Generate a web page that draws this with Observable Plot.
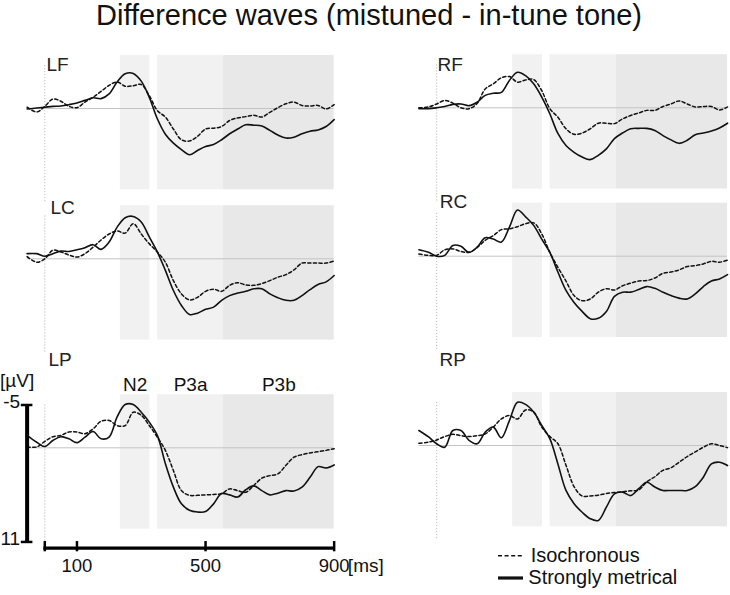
<!DOCTYPE html>
<html><head><meta charset="utf-8">
<script src="https://cdn.jsdelivr.net/npm/d3@7"></script>
<script src="https://cdn.jsdelivr.net/npm/@observablehq/plot@0.6"></script>
<style>
body{margin:0;background:#fff;font-family:"Liberation Sans",Arial,sans-serif;}
#root{position:relative;width:730px;height:595px;overflow:hidden;background:#fff;}
#root > *{position:absolute;}
#title{left:4px;top:1px;width:730px;text-align:center;font-size:29px;line-height:29px;color:#111;white-space:nowrap;}
</style></head><body><div id="root"><div id="title">Difference waves (mistuned - in-tune tone)</div></div>
<script>
// ---- data (µV, positive down as in the figure) ----
const times = [-55,-25,0,25,50,75,100,125,150,175,200,225,250,275,300,325,350,375,400,425,450,475,500,525,550,575,600,625,650,675,700,725,750,775,800,825,850,875,900];

const LF_metrical = [0.05,-0.05,-0.15,-0.25,-0.3,-0.45,-0.65,-0.95,-1.25,-1.15,-1.7,-3.1,-4.05,-4.1,-3.2,-1.3,1.2,3.0,4.05,4.8,5.4,4.9,4.45,4.2,3.65,2.95,2.4,1.9,1.95,2.05,2.55,3.1,3.45,3.35,2.95,2.65,2.5,2.1,1.3];
const LF_isochronous = [-0.15,0.4,-0.25,-1.1,-0.85,-0.25,-0.1,-0.75,-1.3,-2.0,-2.7,-3.1,-2.6,-2.65,-2.8,-1.5,0.25,1.0,2.4,3.65,3.8,3.25,2.4,2.3,2.1,1.4,1.1,0.95,0.8,1.0,0.45,-0.1,-0.55,-0.75,-0.35,-0.3,-0.35,0.05,-0.45];

const RF_metrical = [0.1,0.1,0,-0.15,-0.4,-0.45,-0.25,-0.65,-1.45,-1.7,-1.8,-3.2,-4.15,-3.75,-2.8,-1.25,0.7,3.0,4.4,5.2,5.75,6.05,5.55,4.8,3.6,2.95,2.45,2.4,2.4,2.65,3.25,3.75,4.15,3.8,3.15,2.95,2.7,2.35,1.8];
const RF_isochronous = [0,-0.1,-0.45,-0.85,-0.55,0,0.1,-0.5,-2.2,-2.8,-3.5,-3.65,-3.0,-3.25,-3.3,-2.0,0.1,1.1,2.45,3.1,2.95,2.45,1.8,1.8,1.85,1.3,0.9,0.6,0.3,0.3,-0.15,-0.45,-0.8,-0.45,-0.1,-0.15,-0.15,0.25,-0.1];

const LC_metrical = [-0.6,-0.6,-0.3,-0.6,-0.9,-0.85,-1.05,-1.3,-1.65,-1.1,-1.95,-3.7,-4.8,-4.95,-4.3,-2.55,-0.8,1.35,3.7,5.45,6.5,6.35,5.9,5.65,4.85,4.3,4.0,3.8,3.5,3.5,4.1,4.55,4.85,4.85,4.3,3.6,3.0,2.7,1.95];
const LC_isochronous = [-0.25,0.4,0,-1.0,-0.8,-0.45,-0.2,-0.6,-1.35,-2.2,-2.9,-3.25,-3.0,-4.1,-2.9,-1.75,-0.8,0.4,2.55,4.1,4.8,4.5,3.8,3.55,3.8,3.1,2.8,3.05,3.1,2.9,2.55,2.15,1.85,1.3,0.5,0.5,0.5,0.5,0.25];

const RC_metrical = [-0.75,-0.45,0,-0.1,-1.25,-1.15,-0.45,-1.05,-2.15,-2.0,-1.65,-3.4,-5.4,-4.6,-3.6,-2.0,-0.45,1.85,4.0,5.4,6.45,7.3,7.25,6.45,4.7,4.2,4.2,3.9,3.55,3.75,4.2,4.6,4.9,5.0,4.4,3.55,2.9,2.65,2.15];
const RC_isochronous = [-0.25,-0.1,-0.1,-0.75,-0.85,-0.55,-0.45,-1.0,-1.85,-2.4,-3.1,-3.2,-3.45,-3.8,-3.9,-2.6,-0.45,1.3,2.9,4.6,5.2,5.0,4.2,3.8,3.95,3.45,3.15,2.9,2.85,2.55,2.0,1.85,1.6,1.2,1.1,0.9,0.6,0.7,0.45];

const LP_metrical = [-1.45,-0.65,-0.15,-0.85,-1.3,-1.05,-0.6,-1.25,-1.9,-1.05,-1.25,-3.6,-5.05,-5.05,-4.15,-3.0,-1.45,1.85,4.6,6.55,7.3,7.5,7.45,6.55,5.35,5.5,5.75,4.9,4.45,5.0,5.5,5.3,5.0,5.05,4.6,3.45,2.2,2.35,2.0];
const LP_isochronous = [-0.1,-0.1,-0.75,-1.3,-1.45,-1.85,-1.85,-1.65,-2.2,-3.1,-3.2,-2.6,-2.6,-4.15,-3.8,-2.6,-1.25,0.3,2.65,5.0,5.55,5.55,5.5,5.45,5.35,4.8,5.0,5.2,4.4,3.55,3.25,3.05,2.05,1.1,0.8,0.6,0.45,0.3,0.1];

const RP_metrical = [-1.75,-1.0,-0.2,0.2,-1.75,-1.75,-0.6,-0.2,-1.55,-2.15,-0.9,-2.9,-5.05,-4.8,-3.9,-2.35,-0.8,2.15,5.25,6.8,7.8,8.55,8.75,7.2,5.65,5.45,5.85,5.05,4.3,4.85,5.25,5.25,5.25,5.25,4.8,3.7,2.15,1.95,2.35];
const RP_isochronous = [-0.25,-0.4,-0.65,-1.05,-1.3,-1.15,-1.05,-1.15,-1.35,-2.15,-3.1,-3.5,-3.1,-4.15,-3.9,-2.15,-1.05,-0.2,2.3,4.8,5.9,5.9,5.8,5.6,5.5,5.4,5.3,5.2,4.25,3.65,2.9,2.6,1.95,1.3,0.75,0.2,-0.2,0,0.25];

const regionNames = ["N2","P3a","P3b"];
const regionStart = [235,351,556];
const regionEnd = [327,556,900];
const shadeTop = -6.2, shadeBottom = 9.5;
const xTicks = [100,500,900];
const yTicks = [-5,11];
const seriesNames = ["Isochronous","Strongly metrical"];

// ---- layout ----
const FONT = "Liberation Sans, Arial, sans-serif";
const K = 8.56; // px per µV
const panels = [
  {name:"LF", met:LF_metrical, iso:LF_isochronous, col:0, base:108,   top:38,  height:175, lx:46,    ly:70.7},
  {name:"RF", met:RF_metrical, iso:RF_isochronous, col:1, base:107.3, top:38,  height:175, lx:437,   ly:70.7},
  {name:"LC", met:LC_metrical, iso:LC_isochronous, col:0, base:258.3, top:188, height:175, lx:50,    ly:213.3},
  {name:"RC", met:RC_metrical, iso:RC_isochronous, col:1, base:255.7, top:186, height:175, lx:439.3, ly:207.5},
  {name:"LP", met:LP_metrical, iso:LP_isochronous, col:0, base:447.3, top:360, height:235, lx:48,    ly:365, axes:true},
  {name:"RP", met:RP_metrical, iso:RP_isochronous, col:1, base:445,   top:360, height:200, lx:439,   ly:365}
];
const regions = regionNames.map((name,i)=>({name, start:regionStart[i], end:regionEnd[i]}));
const root = document.getElementById("root");

for (const p of panels) {
  const left = p.col ? 365 : 0;
  const x0 = p.col ? 436.2 - 365 : 44.3;
  const s = p.col ? 0.3232 : 0.3215;
  const b = p.base - p.top;
  const rowsMet = times.map((t,i)=>({t, v:p.met[i]}));
  const rowsIso = times.map((t,i)=>({t, v:p.iso[i]}));
  const marks = [
    Plot.rect(regions, {x1:"start", x2:"end", y1:shadeTop, y2:shadeBottom,
      fill: d => d.name === "P3b" ? "#e8e8e8" : "#f1f1f1"}),
    Plot.ruleY([0], {x1:times[0], x2:900, stroke:"#c4c4c4", strokeWidth:1}),
    Plot.ruleX([0], {y1:-5, y2:11, stroke:"#b0b0b0", strokeWidth:1, strokeDasharray:"1,2"}),
    Plot.line(rowsIso, {x:"t", y:"v", stroke:"#111", strokeWidth:1.5, strokeDasharray:"3.2,2.4", curve:"catmull-rom"}),
    Plot.line(rowsMet, {x:"t", y:"v", stroke:"#111", strokeWidth:1.6, curve:"catmull-rom"}),
    Plot.text([p.name], {frameAnchor:"top-left", dx:p.lx-left, dy:p.ly-p.top, textAnchor:"start", lineAnchor:"bottom", fontSize:19, fill:"#222"})
  ];
  if (p.axes) {
    marks.push(
      Plot.text(regions, {x: d => (d.start+d.end)/2, y: shadeTop, text:"name", dy:-4, lineAnchor:"bottom", fontSize:19, fill:"#111"}),
      Plot.ruleX([times[0]], {y1:-5, y2:11, stroke:"#000", strokeWidth:4}),
      Plot.ruleY(yTicks, {x1:times[0]-18, x2:times[0]+18, stroke:"#000", strokeWidth:2.5}),
      Plot.text(yTicks, {x:times[0], y:d=>d, text:d=>String(d), dx:-7, dy:3, textAnchor:"end", lineAnchor:"bottom", fontSize:19, fill:"#111"}),
      Plot.text(["[µV]"], {x:times[0], y:-5, dx:-10, dy:-18, textAnchor:"middle", lineAnchor:"bottom", fontSize:19, fill:"#111"}),
      Plot.ruleY([11], {x1:-3, x2:900, dy:6.2, stroke:"#000", strokeWidth:3.3}),
      Plot.ruleX([0, ...xTicks], {y1:10.95, y2:12.15, stroke:"#000", strokeWidth:2.5}),
      Plot.text(xTicks, {x:d=>d, y:11, text:d=>String(d), dy:30.2, lineAnchor:"bottom", fontSize:18.5, fill:"#111"}),
      Plot.text(["[ms]"], {x:900, y:11, dx:13.7, dy:30.2, textAnchor:"start", lineAnchor:"bottom", fontSize:19, fill:"#111"})
    );
  }
  const svg = Plot.plot({
    width:365, height:p.height, margin:0,
    x:{domain:[0,900], range:[x0, x0+900*s], axis:null},
    y:{domain:[-5,11], range:[b-5*K, b+11*K], axis:null},
    color:{type:"identity"},
    style:{background:"transparent", overflow:"visible", fontFamily:FONT},
    marks
  });
  svg.style.left = left + "px";
  svg.style.top = p.top + "px";
  svg.style.position = "absolute";
  root.appendChild(svg);
}

// ---- legend ----
const lg = d3.create("svg").attr("width",200).attr("height",55)
  .style("position","absolute").style("left","490px").style("top","540px")
  .style("font-family",FONT);
lg.append("line").attr("x1",8).attr("x2",33).attr("y1",15.7).attr("y2",15.7)
  .attr("stroke","#111").attr("stroke-width",1.5).attr("stroke-dasharray","4,2.6");
lg.append("text").attr("x",40.7).attr("y",21.7).attr("font-size",20).attr("fill","#111").text(seriesNames[0]);
lg.append("line").attr("x1",8).attr("x2",33).attr("y1",38).attr("y2",38)
  .attr("stroke","#111").attr("stroke-width",3.2);
lg.append("text").attr("x",38.3).attr("y",44.3).attr("font-size",20).attr("fill","#111").text(seriesNames[1]);
root.appendChild(lg.node());
</script></body></html>
